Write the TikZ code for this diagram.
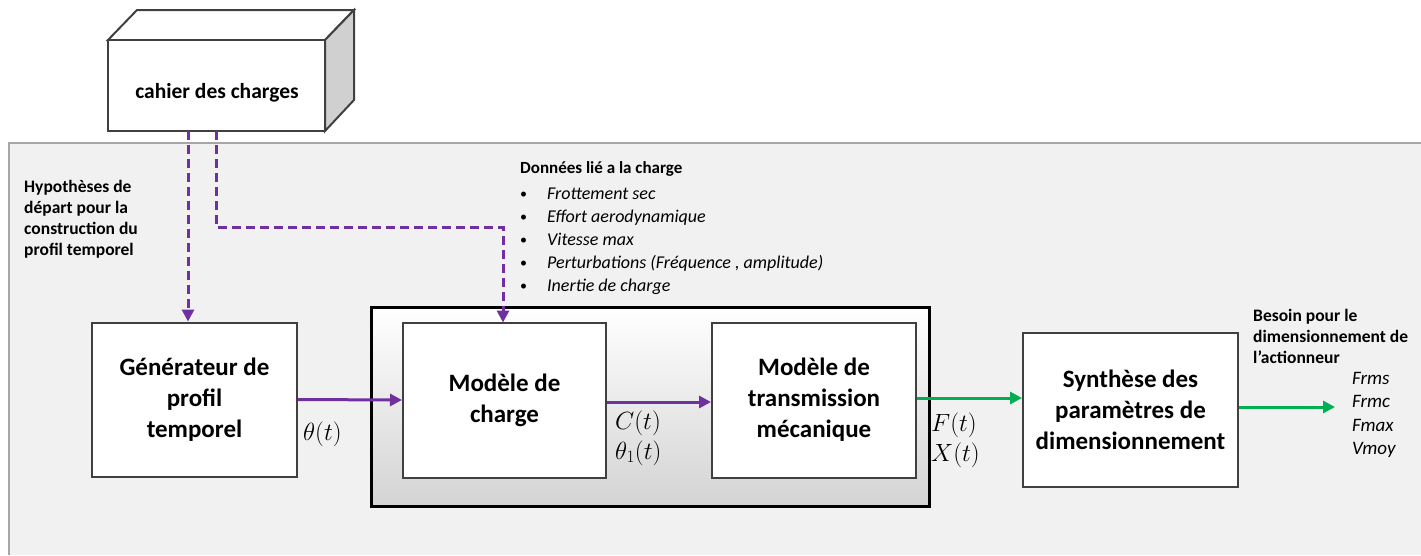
\documentclass[tikz,border=0pt]{standalone}
\usepackage{fontspec}
\setmainfont{Carlito}
\usetikzlibrary{arrows.meta}
\definecolor{bgfill}{HTML}{F1F1F1}
\definecolor{bgline}{HTML}{A6A6A6}
\definecolor{boxline}{HTML}{404040}
\definecolor{purp}{HTML}{7030A0}
\definecolor{grn}{HTML}{00B050}
\definecolor{sideface}{HTML}{D0D0D0}
\newcommand{\mybul}{\makebox[27pt][l]{\raisebox{1pt}{\fontsize{14}{14}\selectfont•}}}
\tikzset{
  blockbox/.style={draw=boxline, line width=2pt, fill=white, align=center,
    font=\fontsize{25}{31}\selectfont\bfseries, inner sep=0pt},
  flowpurple/.style={draw=purp, line width=3pt, -{Triangle[length=12pt,width=12pt]}},
  flowgreen/.style={draw=grn, line width=3pt, -{Triangle[length=12pt,width=12pt]}},
  dashpurple/.style={draw=purp, line width=3pt, dash pattern=on 9pt off 5pt,
    -{Triangle[length=12pt,width=12pt]}},
  notetext/.style={align=left, inner sep=0pt, font=\fontsize{17.5}{21}\selectfont\bfseries},
  mathlbl/.style={align=left, inner sep=0pt, font=\fontsize{25}{30}\selectfont},
}
\begin{document}
\begin{tikzpicture}[x=1pt,y=-1pt]
\useasboundingbox (0,0) rectangle (1421,555);
% background panel
\fill[bgfill] (9,143) rectangle (1421,555);
\draw[bgline, line width=2pt] (9,555) -- (9,143) -- (1421,143);
% cube
\filldraw[draw=boxline, line width=2pt, fill=white] (108,40) -- (137,10) -- (354,10) -- (325,40) -- cycle;
\filldraw[draw=boxline, line width=2pt, fill=sideface] (325,40) -- (354,10) -- (354,100) -- (325,131) -- cycle;
\node[draw=boxline, line width=2pt, fill=white, minimum width=217pt, minimum height=91pt, inner sep=0pt] (cube) at (216.5,85.5) {};
\node[inner sep=0pt, font=\fontsize{21.5}{26}\selectfont\bfseries] (cubetxt) at (217,93) {cahier des charges};
% big model box
\shade[top color=white, middle color=black!12, bottom color=black!17] (371,307) rectangle (929,506);
\node[draw=black, line width=3pt, minimum width=558pt, minimum height=199pt, inner sep=0pt] (big) at (650,406.5) {};
% blocks
\node[blockbox, minimum width=205pt, minimum height=154pt] (gen) at (194.5,399.5) {Générateur de\\profil\\temporel};
\node[blockbox, minimum width=203pt, minimum height=155pt] (charge) at (504.5,400) {Modèle de\\charge};
\node[blockbox, minimum width=204pt, minimum height=155pt] (trans) at (814,400) {Modèle de\\transmission\\mécanique};
\node[blockbox, minimum width=215pt, minimum height=154pt] (synth) at (1130.5,410) {Synthèse des\\paramètres de\\dimensionnement};
% connectors
\draw[flowpurple] (gen.east) -- (charge.west);
\draw[flowpurple] ([yshift=-2pt]charge.east) -- ([yshift=-2pt]trans.west);
\draw[flowgreen] ([yshift=2pt]trans.east) -- ([yshift=2pt]trans.east -| synth.west);
\coordinate (out) at (1335,407);
\draw[flowgreen] (synth.east |- out) -- (out);
\coordinate (d1) at (188,131);
\coordinate (d2) at (216,131);
\coordinate (bend) at (216,227);
\draw[dashpurple] (d1) -- (d1 |- gen.north);
\draw[dashpurple] (d2) -- (bend) -- (503,227) -- (503,322.5);
% labels
\node[mathlbl, anchor=west] (lth) at (303,434) {$\theta(t)$};
\node[mathlbl, anchor=west] (lc) at (615,438) {$C(t)$\\$\theta_1(t)$};
\node[mathlbl, anchor=west] (lf) at (931,440) {$F(t)$\\$X(t)$};
% notes
\node[notetext, anchor=north west] (hyp) at (24,180) {Hypothèses de\\départ pour la\\construction du\\profil temporel};
\node[align=left, inner sep=0pt, anchor=north west, font=\fontsize{18}{23}\selectfont] (donnees) at (520,161) {%
  {\fontsize{17}{21}\selectfont\bfseries Données lié a la charge}\\[3pt]
  \mybul\textit{Frottement sec}\\
  \mybul\textit{Effort aerodynamique}\\
  \mybul\textit{Vitesse max}\\
  \mybul\textit{Perturbations (Fréquence , amplitude)}\\
  \mybul\textit{Inertie de charge}};
\node[notetext, anchor=north west] (besoin) at (1253,309) {Besoin pour le\\dimensionnement de\\l’actionneur};
\node[align=left, inner sep=0pt, anchor=north west, font=\fontsize{19}{23.5}\selectfont\itshape] (outs) at (1352,372) {Frms\\Frmc\\Fmax\\Vmoy};
\end{tikzpicture}
\end{document}
